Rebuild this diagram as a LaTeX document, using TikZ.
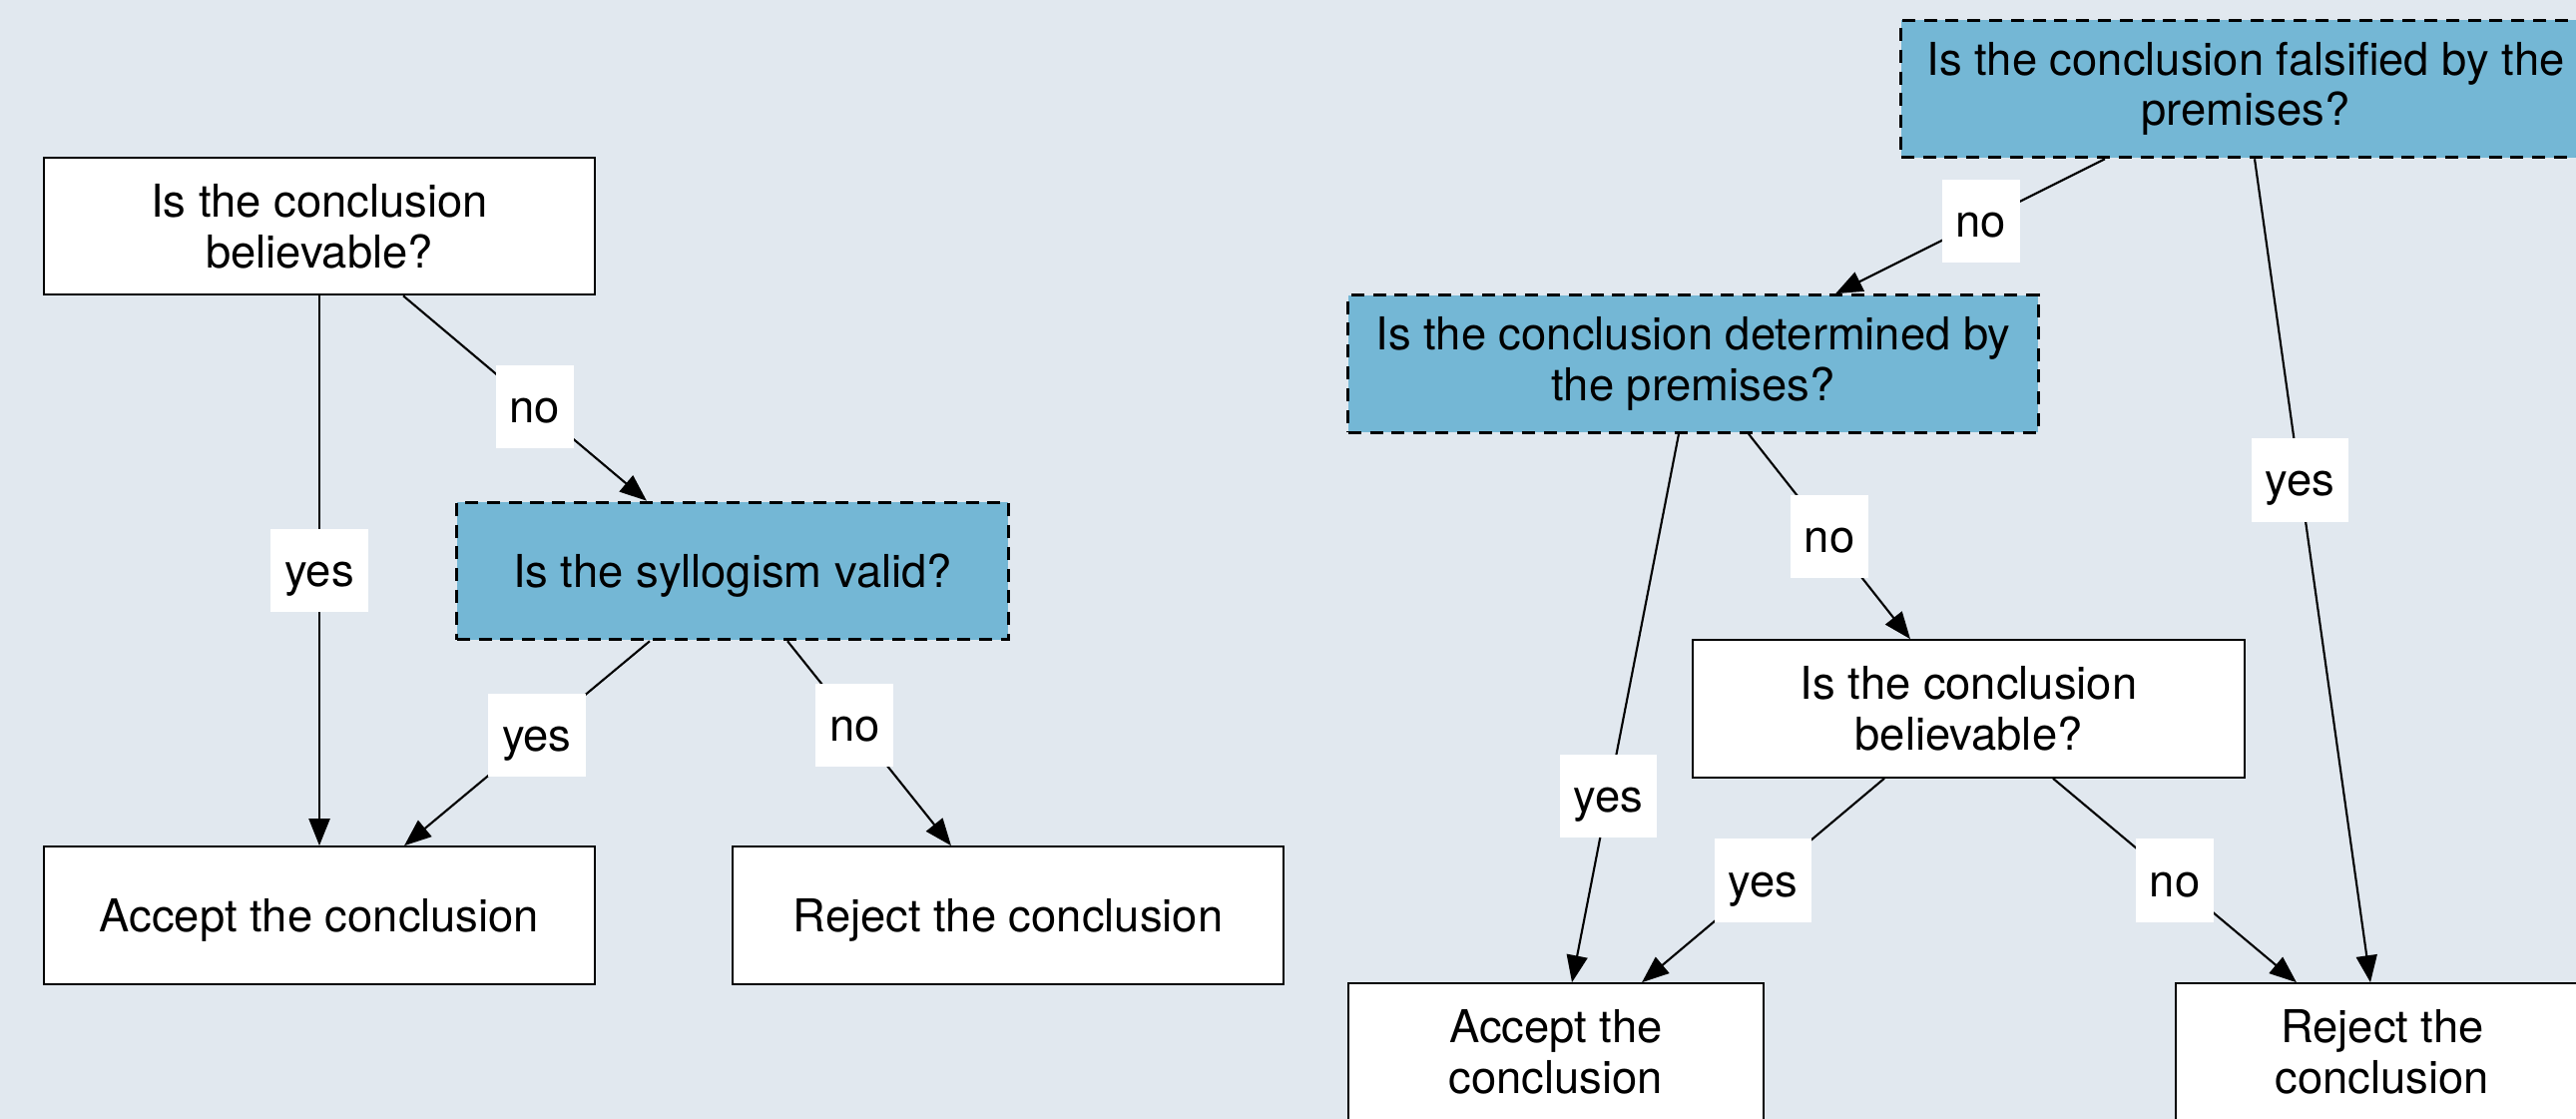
\documentclass[tikz,border=0pt]{standalone}
\usepackage{fontspec}
\setmainfont{TeX Gyre Heros}
\usetikzlibrary{arrows.meta}
\definecolor{bgc}{RGB}{225,232,239}
\definecolor{qblue}{RGB}{116,183,213}
\begin{document}
\begin{tikzpicture}[x=0.01cm,y=-0.01cm,
  txt/.style={font=\fontsize{12.9}{14.4}\selectfont},
  box/.style={draw, line width=0.6pt, fill=white, minimum height=1.375cm, inner sep=0pt, align=center, txt},
  qbox/.style={box, fill=qblue, dash pattern=on 3.7pt off 2.5pt, line width=0.85pt},
  oneline/.style={text depth=0pt},
  lbl/.style={fill=white, inner xsep=0.14cm, inner ysep=0pt, text height=0.32cm, text depth=0pt, minimum height=0.83cm, txt},
  arr/.style={-{Triangle[length=0.27cm,width=0.21cm]}, line width=0.6pt}]
\useasboundingbox (0,0) rectangle (2581,1121);
\fill[bgc] (0,0) rectangle (2581,1121);
% left tree
\node[box, minimum width=5.52cm] (A) at (320,226.5) {Is the conclusion\\believable?};
\node[qbox, oneline, minimum width=5.52cm] (B) at (734,572) {Is the syllogism valid?};
\node[box, oneline, minimum width=5.52cm] (C) at (320,917) {Accept the conclusion};
\node[box, oneline, minimum width=5.52cm] (D) at (1010,917) {Reject the conclusion};
% right tree
\node[qbox, minimum width=6.9cm] (E) at (2250,89) {Is the conclusion falsified by the\\premises?};
\node[qbox, minimum width=6.91cm] (F) at (1696.5,364.5) {Is the conclusion determined by\\the premises?};
\node[box, minimum width=5.53cm] (G) at (1972.5,710) {Is the conclusion\\believable?};
\node[box, minimum width=4.16cm] (H) at (1559,1054) {Accept the\\conclusion};
\node[box, minimum width=4.14cm] (I) at (2387,1054) {Reject the\\conclusion};
% edges left
\draw[arr] (A.south) -- node[lbl, pos=0.5]{yes} (C.north);
\draw[arr] ([xshift=0.84cm]A.south) -- node[lbl,pos=0.54]{no} ([xshift=-0.86cm]B.north);
\draw[arr] ([xshift=-0.83cm]B.south) -- node[lbl,pos=0.46]{yes} ([xshift=0.85cm]C.north);
\draw[arr] ([xshift=0.55cm]B.south) -- node[lbl,pos=0.41]{no} ([xshift=-0.57cm]D.north);
% edges right
\draw[arr] ([xshift=-1.41cm]E.south) -- node[lbl,pos=0.46]{no} ([xshift=1.425cm]F.north);
\draw[arr] ([xshift=0.09cm]E.south) -- node[lbl,pos=0.39]{yes} ([xshift=-0.12cm]I.north);
\draw[arr] ([xshift=-0.145cm]F.south) -- node[lbl,pos=0.66]{yes} ([xshift=0.16cm]H.north);
\draw[arr] ([xshift=0.555cm]F.south) -- node[lbl,pos=0.5]{no} ([xshift=-0.585cm]G.north);
\draw[arr] ([xshift=-0.845cm]G.south) -- node[lbl,pos=0.5]{yes} ([xshift=0.86cm]H.north);
\draw[arr] ([xshift=0.845cm]G.south) -- node[lbl,pos=0.5]{no} ([xshift=-0.86cm]I.north);
\end{tikzpicture}
\end{document}
